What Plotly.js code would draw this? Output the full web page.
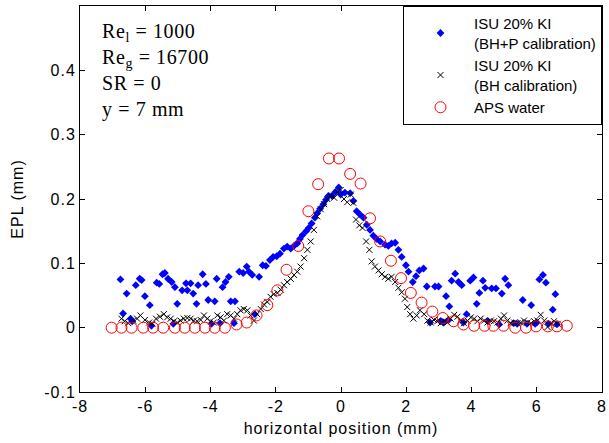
<!DOCTYPE html>
<html>
<head>
<meta charset="utf-8">
<script src="https://cdn.plot.ly/plotly-3.0.1.min.js"></script>
<style>
html,body{margin:0;padding:0;background:#fff;}
#chart{width:609px;height:443px;}
.xtick text,.ytick text,.g-xtitle text,.g-ytitle text{letter-spacing:1px;}
.annotation text{letter-spacing:0.6px;}
</style>
</head>
<body>
<div id="chart"></div>
<script>
// ISU 20% KI (BH+P calibration) - blue diamonds
const bluePX = [-6.76,-6.68,-6.57,-6.45,-6.4,-6.29,-6.17,-6.11,-6.01,-5.86,-5.81,-5.65,-5.57,-5.47,-5.4,-5.3,-5.19,-5.14,-5.09,-5.02,-4.87,-4.75,-4.71,-4.61,-4.53,-4.43,-4.38,-4.24,-4.14,-4.07,-3.97,-3.87,-3.81,-3.71,-3.63,-3.54,-3.44,-3.38,-3.28,-3.25,-3.12,-3.0,-2.89,-2.82,-2.72,-2.64,-2.51,-2.4,-2.3,-2.18,-2.08,-1.97,-1.87,-1.75,-1.65,-1.54,-1.44,-1.34,-1.26,-1.18,-1.07,-0.99,-0.9,-0.8,-0.73,-0.64,-0.54,-0.46,-0.38,-0.28,-0.17,-0.07,
  -0.01,0.12,0.28,0.38,0.48,0.58,0.69,0.79,0.89,0.99,1.09,1.2,1.35,1.45,1.55,1.66,1.76,1.86,1.99,2.07,2.2,2.3,2.4,2.53,2.63,2.73,2.88,2.99,3.05,3.14,3.22,3.3,3.32,3.39,3.5,3.6,3.7,3.75,3.85,3.96,4.06,4.16,4.24,4.35,4.42,4.5,4.62,4.75,4.85,4.93,5.03,5.13,5.29,5.4,5.57,5.7,5.83,5.95,6.0,6.08,6.19,6.28,6.36,6.49,6.57,6.62];
const bluePY = [0.075,0.022,0.053,0.014,0.010,0.066,0.076,0.074,0.049,0.035,0.003,0.070,0.068,0.083,0.085,0.076,0.071,0.006,0.063,0.037,0.058,0.069,0.058,0.069,0.053,0.037,0.066,0.083,0.068,0.043,0.006,0.041,0.076,0.007,0.063,0.071,0.079,0.041,0.007,0.041,0.087,0.085,0.095,0.087,0.082,0.021,0.079,0.097,0.096,0.105,0.110,0.111,0.115,0.123,0.126,0.123,0.127,0.131,0.138,0.144,0.150,0.155,0.162,0.171,0.178,0.185,0.192,0.199,0.205,0.205,0.211,0.218,
  0.207,0.210,0.209,0.197,0.181,0.176,0.171,0.160,0.152,0.143,0.138,0.134,0.129,0.127,0.131,0.132,0.121,0.110,0.097,0.087,0.071,0.080,0.089,0.092,0.064,0.008,0.064,0.064,0.010,0.008,0.049,0.012,0.033,0.073,0.084,0.071,0.066,0.008,0.021,0.073,0.078,0.037,0.054,0.073,0.062,0.010,0.061,0.061,0.005,0.053,0.076,0.066,0.007,0.006,0.043,0.006,0.035,0.006,0.008,0.075,0.082,0.070,0.006,0.028,0.052,0.005];

// ISU 20% KI (BH calibration) - black crosses
const bhX = [-6.73,-6.63,-6.52,-6.37,-6.25,-6.15,-6.01,-5.88,-5.78,-5.67,-5.55,-5.43,-5.33,-5.22,-5.12,-5.02,-4.92,-4.82,-4.71,-4.61,-4.51,-4.41,-4.3,-4.2,-4.1,-4.0,-3.9,-3.79,-3.69,-3.59,-3.49,-3.38,-3.28,-3.18,-3.08,-2.98,-2.87,-2.77,-2.67,-2.57,-2.46,-2.36,-2.26,-2.16,-2.06,-1.95,-1.85,-1.75,-1.65,-1.54,-1.44,-1.34,-1.24,-1.13,-1.03,-0.93,-0.83,-0.73,-0.62,-0.52,-0.42,-0.32,-0.21,-0.11,
  -0.01,0.09,0.19,0.3,0.38,0.46,0.56,0.66,0.77,0.87,0.94,1.04,1.15,1.25,1.35,1.45,1.55,1.66,1.76,1.86,1.96,2.03,2.12,2.22,2.32,2.42,2.55,2.65,2.75,2.85,2.95,3.06,3.16,3.26,3.36,3.47,3.57,3.67,3.77,3.88,3.98,4.08,4.18,4.28,4.39,4.49,4.59,4.69,4.8,4.9,5.0,5.1,5.2,5.31,5.41,5.51,5.61,5.72,5.82,5.92,6.02,6.12,6.23,6.33,6.43,6.53,6.64];
const bhY = [0.014,0.010,0.007,0.011,0.014,0.019,0.012,0.008,0.006,0.014,0.017,0.021,0.016,0.014,0.010,0.008,0.011,0.014,0.015,0.014,0.011,0.010,0.012,0.019,0.014,0.010,0.008,0.019,0.016,0.011,0.021,0.019,0.014,0.021,0.027,0.029,0.027,0.019,0.011,0.021,0.029,0.036,0.040,0.048,0.052,0.054,0.059,0.066,0.071,0.076,0.082,0.087,0.095,0.108,0.121,0.134,0.152,0.173,0.184,0.192,0.200,0.205,0.202,0.210,
  0.214,0.200,0.195,0.207,0.194,0.168,0.159,0.155,0.134,0.121,0.103,0.095,0.089,0.083,0.079,0.076,0.079,0.071,0.062,0.055,0.045,0.032,0.021,0.014,0.019,0.027,0.021,0.011,0.008,0.012,0.010,0.007,0.011,0.008,0.014,0.020,0.017,0.011,0.007,0.011,0.016,0.014,0.010,0.014,0.011,0.008,0.011,0.010,0.008,0.014,0.019,0.011,0.007,0.008,0.007,0.008,0.011,0.008,0.007,0.010,0.011,0.020,0.011,0.001,0.007,0.010,0.006];

// APS water - red open circles
const apsX = [-7.03,-6.73,-6.42,-6.06,-5.76,-5.45,-5.09,-4.79,-4.48,-4.17,-3.87,-3.56,-3.2,-2.89,-2.59,-2.26,-1.95,-1.67,-1.31,-1.0,-0.7,-0.37,-0.06,0.28,0.6,0.89,1.2,1.53,1.84,2.14,2.47,2.8,3.12,3.45,3.75,4.08,4.4,4.67,4.98,5.34,5.67,5.98,6.34,6.62,6.92];
const apsY = [0,0,0,0,0,0,0,0,0,0,0,0,0.005,0.008,0.019,0.035,0.058,0.090,0.127,0.181,0.223,0.263,0.263,0.239,0.224,0.170,0.134,0.104,0.077,0.054,0.039,0.025,0.015,0.010,0.005,0.003,0.003,0.003,0.003,0,0,0.002,0.002,0.002,0.003];

const xTicks = [-8,-6,-4,-2,0,2,4,6,8];
const yTicks = [-0.1,0,0.1,0.2,0.3,0.4];
const yTickText = ['-0.1','0','0.1','0.2','0.3','0.4'];
const xTickText = ['-8','-6','-4','-2','0','2','4','6','8'];

const seriesNames = ['ISU 20% KI<br>(BH+P calibration)','ISU 20% KI<br>(BH calibration)','APS water'];
const infoLines = ['Re<sub>l</sub> = 1000','Re<sub>g</sub> = 16700','SR = 0','y = 7 mm'];

const sansFont = 'Liberation Sans, Arial, Helvetica, sans-serif';
const serifFont = 'Liberation Serif, Times New Roman, serif';

const traces = [
  {x: bluePX, y: bluePY, mode: 'markers', type: 'scatter', name: seriesNames[0],
   marker: {symbol: 'diamond', size: 6, color: '#0000ff', line: {width: 0}}},
  {x: bhX, y: bhY, mode: 'markers', type: 'scatter', name: seriesNames[1],
   marker: {symbol: 'x-thin-open', size: 6, color: '#000000', line: {width: 1, color: '#000000'}}},
  {x: apsX, y: apsY, mode: 'markers', type: 'scatter', name: seriesNames[2],
   marker: {symbol: 'circle-open', size: 11, color: '#ff0000', line: {width: 1, color: '#ff0000'}}}
];

const axisCommon = {
  showline: true, linecolor: '#000', linewidth: 1, mirror: 'ticks',
  ticks: 'inside', ticklen: 5, tickcolor: '#000', tickwidth: 1,
  showgrid: false, zeroline: false,
  tickfont: {family: sansFont, size: 16, color: '#000'}
};

const layout = {
  width: 609, height: 443,
  margin: {l: 80, r: 7, t: 6, b: 51},
  paper_bgcolor: '#fff', plot_bgcolor: '#fff',
  xaxis: Object.assign({}, axisCommon, {
    range: [-8, 8], tickvals: xTicks, ticktext: xTickText,
    title: {text: 'horizontal position (mm)', font: {family: sansFont, size: 16, color: '#000'}, standoff: 8}
  }),
  yaxis: Object.assign({}, axisCommon, {
    range: [-0.1, 0.5], tickvals: yTicks, ticktext: yTickText,
    title: {text: 'EPL (mm)', font: {family: sansFont, size: 16, color: '#000'}, standoff: 16}
  }),
  showlegend: true,
  legend: {
    x: 1, xanchor: 'right', y: 1, yanchor: 'top',
    bgcolor: '#fff', bordercolor: '#000', borderwidth: 1,
    font: {family: sansFont, size: 15, color: '#000'},
    indentation: 3, itemwidth: 57
  },
  annotations: [{
    xref: 'paper', yref: 'paper', x: 0.038, y: 0.970, xanchor: 'left', yanchor: 'top',
    align: 'left', showarrow: false,
    text: infoLines.join('<br>'),
    font: {family: serifFont, size: 20, color: '#000'}
  }]
};

Plotly.newPlot('chart', traces, layout, {staticPlot: true, displayModeBar: false});
</script>
</body>
</html>
